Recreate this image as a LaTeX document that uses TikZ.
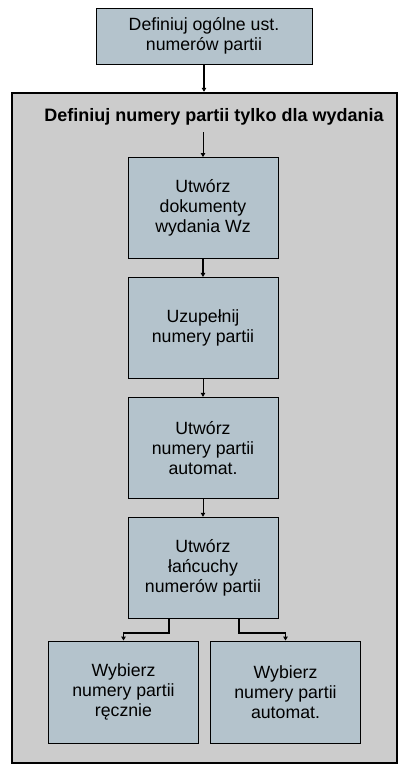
\documentclass[tikz,border=0pt]{standalone}
\usepackage{fontspec}
\setmainfont{Liberation Sans}
\usetikzlibrary{positioning,arrows.meta}
\definecolor{cStep}{HTML}{B4C3CC}
\definecolor{cFrame}{HTML}{CCCCCC}
\tikzset{
  base/.style  ={draw, align=center, font=\fontsize{17.7}{20}\selectfont,
                 line width=0.9pt, inner sep=3pt},
  stepbox/.style={base, fill=cStep, minimum width=150pt, minimum height=101pt},
  topbox/.style={base, fill=cStep, minimum width=216pt, minimum height=56pt},
  group/.style ={draw, fill=cFrame, line width=2.4pt},
  ttl/.style   ={font=\bfseries\fontsize{18}{20}\selectfont, inner sep=0pt},
  arr/.style   ={-{Triangle[length=4pt,width=4.5pt]}, line width=0.9pt},
  arrk/.style  ={-{Triangle[length=4pt,width=4.5pt]}, line width=1.8pt},
}
\begin{document}
\begin{tikzpicture}[x=1pt, y=1pt, node distance=18pt and 12pt]
\useasboundingbox (0,0) rectangle (410,-777);
\fill[white] (0,0) rectangle (410,-777);

\node[topbox] (gen) at (204,-36) {Definiuj ogólne ust.\\ numerów partii};

\node[group, minimum width=385pt, minimum height=670pt] (frame) at (204.5,-428) {};
\node[ttl] (title) at (214,-117) {Definiuj numery partii tylko dla wydania};

\node[stepbox] (docs) at (203,-208) {Utwórz\\ dokumenty\\ wydania Wz};
\node[stepbox, below=of docs] (fill) {Uzupełnij\\ numery partii};
\node[stepbox, below=of fill] (auto) {Utwórz\\ numery partii\\ automat.};
\node[stepbox, below=of auto] (chain) {Utwórz\\ łańcuchy\\ numerów partii};

\node[stepbox, minimum height=102pt] (pickm) at (123.5,-692) {Wybierz\\ numery partii\\ ręcznie};
\node[stepbox, minimum height=102pt] (picka) at (285.5,-692) {Wybierz\\ numery partii\\ automat.};

\coordinate (tin) at (docs.north |- 0,-132);

\draw[arrk] (gen.south) -- (gen.south |- frame.north);
\draw[arr] (tin) -- (docs.north);
\draw[arrk] (docs) -- (fill);
\draw[arr] (fill) -- (auto);
\draw[arr] (auto) -- (chain);
\draw[arrk] ([xshift=-34pt]chain.south) -- ++(0,-14) -| (pickm.north);
\draw[arrk] ([xshift=36pt]chain.south) -- ++(0,-14) -| (picka.north);
\end{tikzpicture}
\end{document}
